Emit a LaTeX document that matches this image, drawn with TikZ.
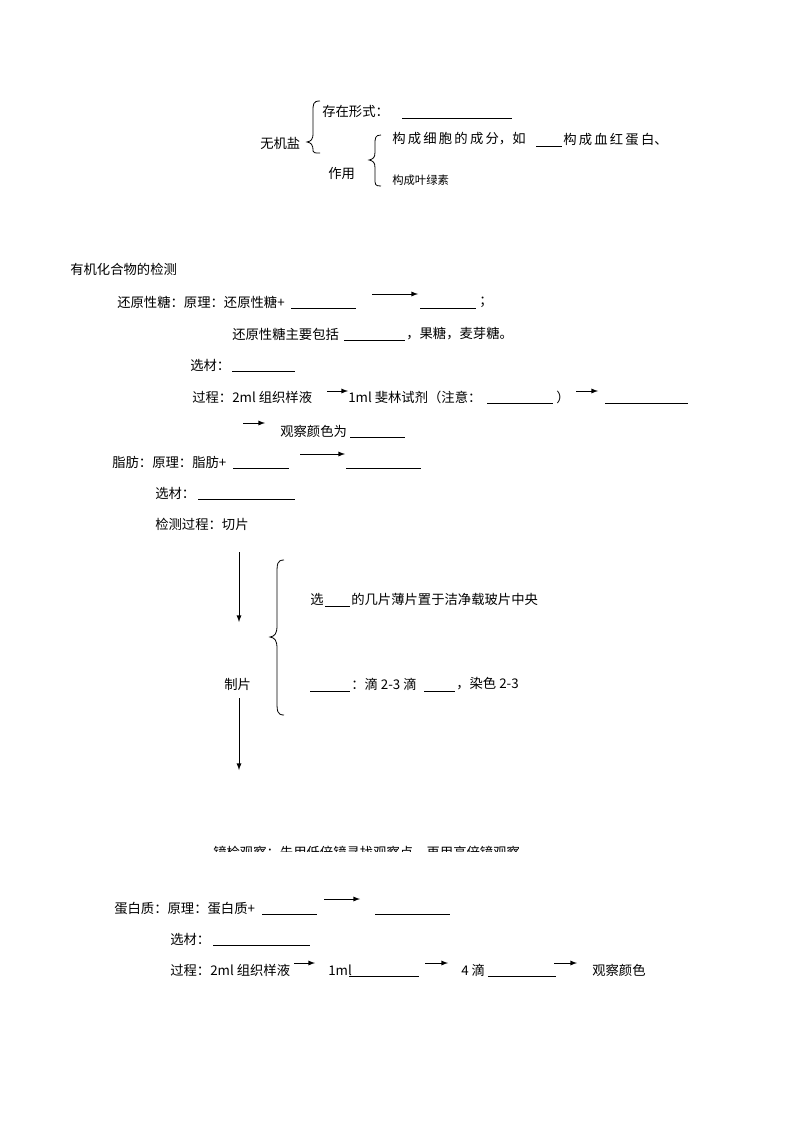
\documentclass[tikz,border=0pt]{standalone}
\usepackage{fontspec}
\setmainfont{Noto Sans CJK SC}
\begin{document}
\begin{tikzpicture}[x=0.75pt,y=-0.75pt,
  t/.style={anchor=west,inner sep=0pt,font=\fontsize{10}{12}\selectfont},
  s/.style={anchor=west,inner sep=0pt,font=\fontsize{8.5}{10}\selectfont},
  bl/.style={line width=0.5pt},
  ar/.style={-latex,line width=0.7pt}]
\useasboundingbox (0,0) rectangle (794,1123);
% inorganic salt
\node[t] (a1) at (322,111) {存在形式：};
\draw[bl] (402,118) -- (512,118);
\node[t] (a2) at (260,143) {无机盐};
\draw[line width=0.6pt] (320,101) .. controls (313,101) and (313,104) .. (313,112) -- (313,133) .. controls (313,140) and (311,141) .. (307,142) .. controls (311,143) and (313,144) .. (313,151) .. controls (313,153) and (315,153) .. (320,153);
\node[t] (a3) at (328,173) {作用};
\draw[line width=0.6pt] (381,135) .. controls (375,135) and (375,138) .. (375,145) -- (375,152) .. controls (375,158) and (373,159) .. (369,160) .. controls (373,161) and (375,162) .. (375,168) -- (375,178) .. controls (375,185) and (375,186) .. (381,186);
\node[t] (a4) at (392,139) {构\,成\,细\,胞\,的\,成\,分，如};
\draw[bl] (536,146) -- (562,146);
\node[t] (a5) at (563,139) {构\,成\,血\,红\,蛋\,白、};
\node[s] (a6) at (392,180) {构成叶绿素};
% heading
\node[t] (h) at (70,269) {有机化合物的检测};
% reducing sugar
\node[t] (r1) at (117,302) {还原性糖：原理：还原性糖+};
\draw[bl] (291,308) -- (356,308);
\coordinate (r2a) at (372,294); \coordinate (r2b) at (418,294);
\draw[ar] (r2a) -- (r2b);
\draw[bl] (420,308) -- (476,308);
\node[t] (r3) at (479,302) {；};
\node[t] (r4) at (232,334) {还原性糖主要包括};
\draw[bl] (344,340) -- (405,340);
\node[t] (r5) at (406,334) {，果糖，麦芽糖。};
\node[t] (r6) at (190,365) {选材：};
\draw[bl] (232,371) -- (295,371);
\node[t] (r7) at (192,397) {过程：2ml 组织样液};
\coordinate (r8a) at (327,391); \coordinate (r8b) at (348,391);
\draw[ar] (r8a) -- (r8b);
\node[t] (r9) at (348,397) {1ml 斐林试剂（注意：};
\draw[bl] (487,403) -- (553,403);
\node[t] (r10) at (556,397) {）};
\coordinate (r11a) at (576,391); \coordinate (r11b) at (598,391);
\draw[ar] (r11a) -- (r11b);
\draw[bl] (605,403) -- (688,403);
\coordinate (r12a) at (243,423); \coordinate (r12b) at (265,423);
\draw[ar] (r12a) -- (r12b);
\node[t] (r13) at (280,431) {观察颜色为};
\draw[bl] (350,437) -- (405,437);
% fat
\node[t] (f1) at (112,462) {脂肪：原理：脂肪+};
\draw[bl] (233,468) -- (289,468);
\coordinate (f2a) at (300,454); \coordinate (f2b) at (345,454);
\draw[ar] (f2a) -- (f2b);
\draw[bl] (346,468) -- (421,468);
\node[t] (f3) at (155,493) {选材：};
\draw[bl] (198,499) -- (295,499);
\node[t] (f4) at (155,524) {检测过程：切片};
\coordinate (d1a) at (239,552); \coordinate (d1b) at (239,622);
\draw[ar] (d1a) -- (d1b);
\draw[line width=0.6pt] (284,560) .. controls (277,560) and (277,564) .. (277,575) -- (277,625) .. controls (277,634) and (275,636) .. (270,637) .. controls (275,638) and (277,640) .. (277,649) -- (277,700) .. controls (277,711) and (277,715) .. (284,715);
\node[t] (f5) at (310,599) {选};
\draw[bl] (325,606) -- (350,606);
\node[t] (f6) at (351,599) {的几片薄片置于洁净载玻片中央};
\node[t] (f7) at (224,684) {制片};
\coordinate (d2a) at (239,698); \coordinate (d2b) at (239,770);
\draw[ar] (d2a) -- (d2b);
\draw[bl] (310,691) -- (350,691);
\node[t] (f8) at (351,684) {：滴 2-3 滴};
\draw[bl] (424,691) -- (455,691);
\node[t] (f9) at (456,684) {，染色 2-3};
\begin{scope}
\clip (200,830) rectangle (560,851);
\node[t] (f10) at (213,853) {镜检观察：先用低倍镜寻找观察点，再用高倍镜观察};
\end{scope}
% protein
\node[t] (p1) at (114,908) {蛋白质：原理：蛋白质+};
\draw[bl] (262,914) -- (317,914);
\coordinate (p2a) at (324,899); \coordinate (p2b) at (360,899);
\draw[ar] (p2a) -- (p2b);
\draw[bl] (375,914) -- (450,914);
\node[t] (p3) at (170,939) {选材：};
\draw[bl] (213,945) -- (310,945);
\node[t] (p4) at (170,970) {过程：2ml 组织样液};
\coordinate (p5a) at (294,963); \coordinate (p5b) at (315,963);
\draw[ar] (p5a) -- (p5b);
\node[t] (p6) at (328,970) {1ml};
\draw[bl] (349,976) -- (419,976);
\coordinate (p7a) at (425,963); \coordinate (p7b) at (448,963);
\draw[ar] (p7a) -- (p7b);
\node[t] (p8) at (461,970) {4 滴};
\draw[bl] (488,976) -- (556,976);
\coordinate (p9a) at (554,963); \coordinate (p9b) at (577,963);
\draw[ar] (p9a) -- (p9b);
\node[t] (p10) at (592,970) {观察颜色};
\end{tikzpicture}
\end{document}
